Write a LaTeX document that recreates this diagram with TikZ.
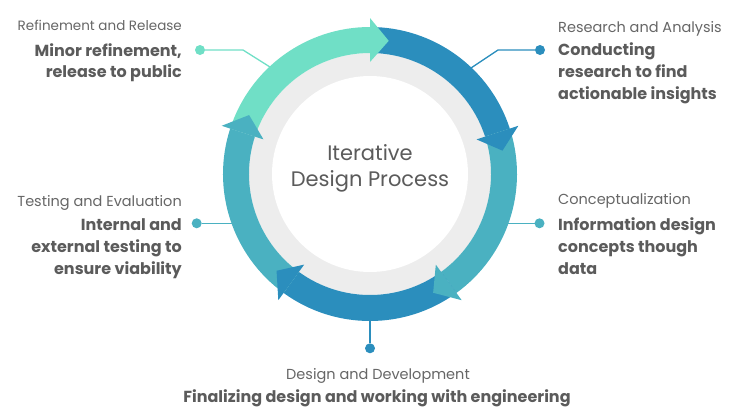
\documentclass[tikz,border=0pt]{standalone}
\usepackage{fontspec}
\setmainfont{Poppins}
\definecolor{refgreen}{HTML}{70DFC6}
\definecolor{stepblue}{HTML}{2B8EBD}
\definecolor{stepteal}{HTML}{4AB1C1}
\definecolor{ringgray}{HTML}{EDEDED}
\definecolor{textgray}{HTML}{5B5B5B}
\definecolor{labelgray}{HTML}{666666}
\begin{document}
\begin{tikzpicture}[x=1pt, y=1pt,
    vertex/.style={circle,minimum size=10pt,inner sep=0pt,outer sep=0pt},
    phase/.style={font=\fontsize{14.5}{17}\selectfont, text=labelgray, inner sep=0pt},
    blurb/.style={font=\bfseries\fontsize{16}{21.7}\selectfont, text=textgray, inner sep=0pt},
    link/.style={line width=1.3pt}]
    \pgfmathsetmacro{\ro}{147}
    \pgfmathsetmacro{\ri}{121}
    \pgfmathsetmacro{\rw}{98}
    \pgfmathsetmacro{\rm}{134.5}
    \pgfmathsetmacro{\hro}{156}
    \pgfmathsetmacro{\hri}{112}
    \useasboundingbox (0,0) rectangle (740,-416);
    % connectors
    \node[vertex, fill=refgreen] (dotRel) at (200,-50) {};
    \coordinate (kneeRel) at (243,-50);
    \coordinate (ringRel) at (270,-67);
    \draw[link, refgreen] (dotRel) -- (kneeRel) -- (ringRel);
    \node[vertex, fill=stepblue] (dotRes) at (540,-50) {};
    \coordinate (kneeRes) at (498,-50);
    \coordinate (ringRes) at (471,-68);
    \draw[link, stepblue] (dotRes) -- (kneeRes) -- (ringRes);
    \node[vertex, fill=stepteal] (dotCon) at (539.5,-223.3) {};
    \coordinate (ringCon) at (505,-223.3);
    \draw[link, stepteal] (dotCon) -- (ringCon);
    \node[vertex, fill=stepteal] (dotTes) at (196.7,-223.3) {};
    \coordinate (ringTes) at (235,-223.3);
    \draw[link, stepteal] (dotTes) -- (ringTes);
    \node[vertex, fill=stepblue] (dotDes) at (370,-348.3) {};
    \coordinate (ringDes) at (370,-318);
    \draw[link, stepblue] (dotDes) -- (ringDes);
    % the cycle
    \begin{scope}[shift={(370,-174)}]
      \fill[ringgray] (0,0) circle[radius=\ri];
      \fill[white] (0,0) circle[radius=\rw];
      \fill[refgreen] (162:\ro) arc[start angle=162, end angle=90, radius=\ro] -- (90:\ri) arc[start angle=90, end angle=162, radius=\ri] -- cycle;
      \fill[stepblue] (90:\ro) arc[start angle=90, end angle=18, radius=\ro] -- (18:\ri) arc[start angle=18, end angle=90, radius=\ri] -- cycle;
      \fill[stepteal] (18:\ro) arc[start angle=18, end angle=-54, radius=\ro] -- (-54:\ri) arc[start angle=-54, end angle=18, radius=\ri] -- cycle;
      \fill[stepblue] (-54:\ro) arc[start angle=-54, end angle=-126, radius=\ro] -- (-126:\ri) arc[start angle=-126, end angle=-54, radius=\ri] -- cycle;
      \fill[stepteal] (-126:\ro) arc[start angle=-126, end angle=-198, radius=\ro] -- (-198:\ri) arc[start angle=-198, end angle=-126, radius=\ri] -- cycle;
      \fill[refgreen] (90:\hro) -- (82:\rm) -- (90:\hri) -- cycle;
      \fill[stepblue] (18:\hro) -- (10:\rm) -- (18:\hri) -- cycle;
      \fill[stepteal] (-54:\hro) -- (-62:\rm) -- (-54:\hri) -- cycle;
      \fill[stepblue] (-126:\hro) -- (-134:\rm) -- (-126:\hri) -- cycle;
      \fill[stepteal] (162:\hro) -- (154:\rm) -- (162:\hri) -- cycle;
    \end{scope}
    \node[font=\fontsize{21}{26.7}\selectfont, text=textgray, align=center, inner sep=0pt, anchor=base] (title) at (370,-186.7) {Iterative\\Design Process};
    % labels
    \node[phase, anchor=base east, font=\fontsize{13.5}{17}\selectfont] (phaseRel) at (182,-30) {Refinement and Release};
    \node[blurb, anchor=base east, align=right] (blurbRel) at (182,-77.7) {Minor refinement,\\release to public};
    \node[phase, anchor=base west] (phaseRes) at (558,-32) {Research and Analysis};
    \node[blurb, anchor=base west, align=left] (blurbRes) at (558,-99.3) {Conducting\\research to find\\actionable insights};
    \node[phase, anchor=base west] (phaseCon) at (558,-204) {Conceptualization};
    \node[blurb, anchor=base west, align=left] (blurbCon) at (558,-274.3) {Information design\\concepts though\\data};
    \node[phase, anchor=base east] (phaseTes) at (182,-206.7) {Testing and Evaluation};
    \node[blurb, anchor=base east, align=right] (blurbTes) at (182,-274.3) {Internal and\\external testing to\\ensure viability};
    \node[phase, anchor=base] (phaseDes) at (378,-379.3) {Design and Development};
    \node[blurb, anchor=base] (blurbDes) at (377,-402.7) {Finalizing design and working with engineering};
  \end{tikzpicture}
\end{document}
